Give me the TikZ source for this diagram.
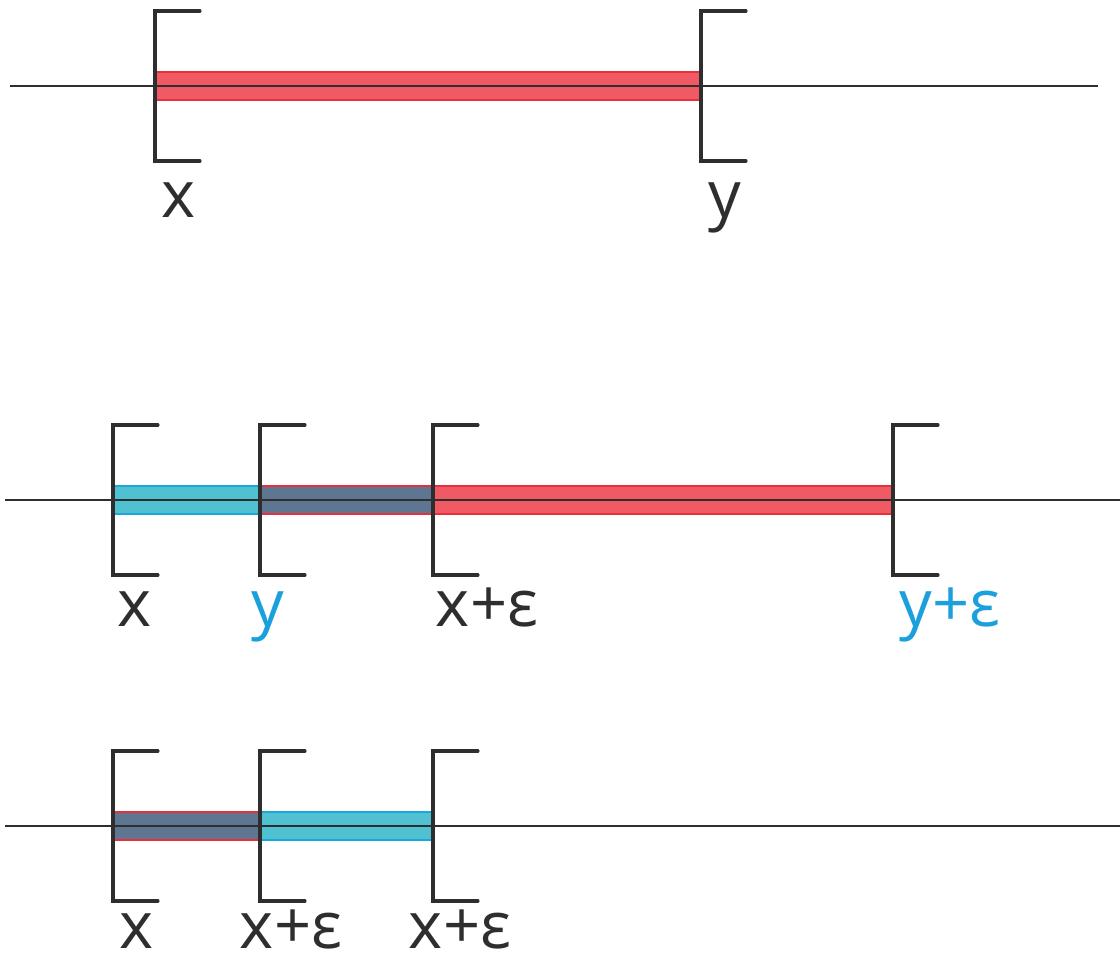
\documentclass[tikz,border=0pt]{standalone}
\usepackage{fontspec}
\setmainfont{Open Sans}
\usepackage{tikz}
\usetikzlibrary{calc}

\definecolor{barred}{HTML}{EF5A64}
\definecolor{edgered}{HTML}{E8303C}
\definecolor{barblue}{HTML}{4FC1D0}
\definecolor{edgeblue}{HTML}{1AA7E0}
\definecolor{bardark}{HTML}{5E7691}
\definecolor{lblblue}{HTML}{1BA0DC}
\definecolor{ink}{HTML}{2E2E2E}

\tikzset{
  axis/.style={line width=1.1pt, ink},
  brk/.style={line width=1.8pt, ink, line cap=round, line join=miter},
  redbar/.style={fill=barred, draw=edgered, line width=0.8pt},
  bluebar/.style={fill=barblue, draw=edgeblue, line width=0.8pt},
  darkred/.style={fill=bardark, draw=edgered, line width=0.8pt},
  lbl/.style={font=\fontsize{37}{40}\selectfont, text=ink, anchor=base, inner sep=0pt},
}

% left bracket round a point of the line
\newcommand{\lbrk}[1]{\draw[brk] (#1) ++(45,-75) -- ++(-45,0) -- ++(0,150) -- ++(45,0);}
% bar between two points of the line
\newcommand{\intbar}[3]{\draw[#1] ($(#2)+(0,-14)$) rectangle ($(#3)+(0,14)$);}

\begin{document}
\begin{tikzpicture}[x=0.02cm, y=-0.02cm]
                \useasboundingbox (0,0) rectangle (1120,962);
                % first line
                \coordinate (Aw) at (10,86);
                \coordinate (Ae) at (1098,86);
                \coordinate (Ax) at (155,86);
                \coordinate (Ay) at (701,86);
                \intbar{redbar}{Ax}{Ay}
                \draw[axis] (Aw) -- (Ae);
                \lbrk{Ax} \lbrk{Ay}
                \node[lbl] (lAx) at (179,218) {x};
                \node[lbl] (lAy) at (725,218) {y};
                % second line
                \coordinate (Bw) at (5,500);
                \coordinate (Be) at (1120,500);
                \coordinate (Bx) at (113,500);
                \coordinate (By) at (260,500);
                \coordinate (Bxe) at (433,500);
                \coordinate (Bye) at (893,500);
                \intbar{redbar}{By}{Bye}
                \intbar{bluebar}{Bx}{Bxe}
                \intbar{darkred}{By}{Bxe}
                \draw[axis] (Bw) -- (Be);
                \lbrk{Bx} \lbrk{By} \lbrk{Bxe} \lbrk{Bye}
                \node[lbl] (lBx) at (135,627) {x};
                \node[lbl, text=lblblue] (lBy) at (268,627) {y};
                \node[lbl] (lBxe) at (487,627) {x+ε};
                \node[lbl, text=lblblue] (lBye) at (950,627) {y+ε};
                % third line
                \coordinate (Cw) at (5,826);
                \coordinate (Ce) at (1120,826);
                \coordinate (Cx) at (113,826);
                \coordinate (Cxe) at (260,826);
                \coordinate (Cxee) at (433,826);
                \intbar{darkred}{Cx}{Cxe}
                \intbar{bluebar}{Cxe}{Cxee}
                \draw[axis] (Cw) -- (Ce);
                \lbrk{Cx} \lbrk{Cxe} \lbrk{Cxee}
                \node[lbl] (lCx) at (137,949) {x};
                \node[lbl] (lCxe) at (291,949) {x+ε};
                \node[lbl] (lCxee) at (460,949) {x+ε};
            \end{tikzpicture}
\end{document}
